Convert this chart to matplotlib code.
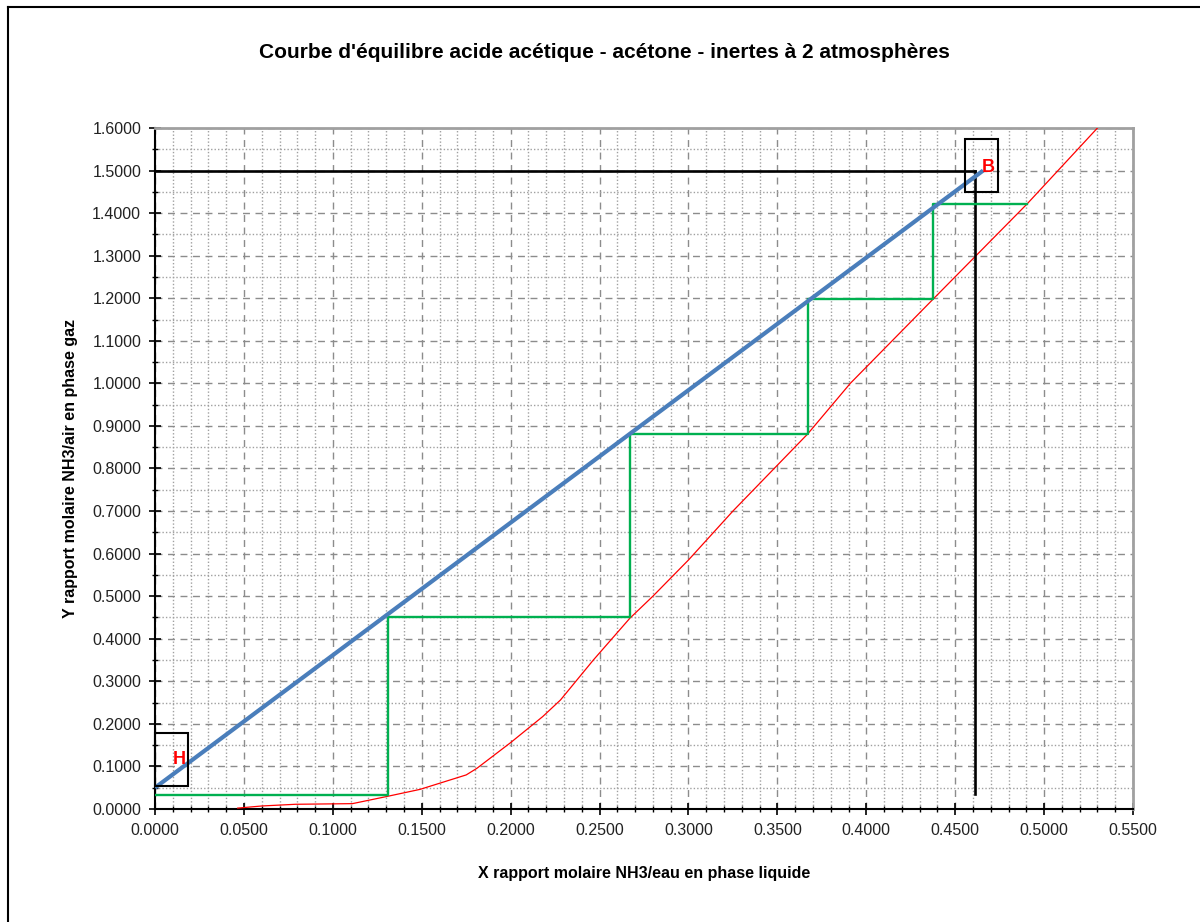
import matplotlib
matplotlib.use("Agg")
import matplotlib.pyplot as plt
from matplotlib.patches import Rectangle
from matplotlib.lines import Line2D
from matplotlib.ticker import MultipleLocator, FormatStrFormatter

plt.rcParams['font.family'] = ['Liberation Sans', 'DejaVu Sans']

# equilibrium curve (red)
eq_x = [0.0465, 0.060, 0.079, 0.111, 0.130, 0.149, 0.175, 0.181, 0.200, 0.218,
        0.228, 0.2465, 0.267, 0.280, 0.300, 0.325, 0.367, 0.391, 0.4376, 0.4904, 0.530]
eq_y = [0.002, 0.007, 0.011, 0.0125, 0.029, 0.046, 0.080, 0.0955, 0.156, 0.217,
        0.256, 0.350, 0.448, 0.500, 0.585, 0.700, 0.881, 1.000, 1.198, 1.4215, 1.600]

# operating line (blue) H -> B
op_x = [0.0, 0.4657]
op_y = [0.05, 1.50]

# stages (green staircase)
st_x = [0.0, 0.131, 0.131, 0.267, 0.267, 0.367, 0.367, 0.4376, 0.4376, 0.4904]
st_y = [0.033, 0.033, 0.451, 0.451, 0.881, 0.881, 1.198, 1.198, 1.4215, 1.4215]

# black construction lines
hline_x = [0.0, 0.461]
hline_y = [1.5, 1.5]
vline_x = [0.461, 0.461]
vline_y = [1.5, 0.035]

# label boxes: (x0, y0, w, h)
box_H = (0.0, 0.054, 0.0186, 0.125)
box_B = (0.4556, 1.450, 0.0185, 0.124)

fig = plt.figure(figsize=(12, 9.22), dpi=100)
ax = fig.add_axes([0.1292, 0.1226, 0.815, 0.7386])

ax.set_xlim(0, 0.55)
ax.set_ylim(0, 1.6)
ax.xaxis.set_major_locator(MultipleLocator(0.05))
ax.xaxis.set_minor_locator(MultipleLocator(0.01))
ax.yaxis.set_major_locator(MultipleLocator(0.1))
ax.yaxis.set_minor_locator(MultipleLocator(0.05))
ax.xaxis.set_major_formatter(FormatStrFormatter('%.4f'))
ax.yaxis.set_major_formatter(FormatStrFormatter('%.4f'))

ax.grid(which='major', color='#8c8c8c', linestyle=(0, (5, 4)), linewidth=1.0)
ax.grid(which='minor', color='#a0a0a0', linestyle=(0, (1, 1.5)), linewidth=1.0)
ax.set_axisbelow(True)

ax.tick_params(which='major', direction='inout', length=8, width=1.2,
               labelsize=11.5, colors='black', labelcolor='#222222', pad=6)
ax.tick_params(which='minor', direction='inout', length=5, width=1.0)

for s in ['left', 'bottom']:
    ax.spines[s].set_color('black')
    ax.spines[s].set_linewidth(1.5)
for s in ['top', 'right']:
    ax.spines[s].set_color('#a0a0a0')
    ax.spines[s].set_linewidth(2)

ax.plot(eq_x, eq_y, color='#ff0000', linewidth=0.9, zorder=3)
ax.plot(hline_x, hline_y, color='black', linewidth=1.9, zorder=3)
ax.plot(vline_x, vline_y, color='black', linewidth=1.9, zorder=3)
ax.plot(st_x, st_y, color='#00b050', linewidth=1.7, zorder=4)
ax.plot(op_x, op_y, color='#4a7ebb', linewidth=3.0, zorder=5, solid_capstyle='butt')

for b in (box_H, box_B):
    ax.add_patch(Rectangle((b[0], b[1]), b[2], b[3], fill=False,
                           edgecolor='black', linewidth=1.5, zorder=6, clip_on=False))

ax.text(0.0135, 0.117, 'H', color='#ff0000', fontsize=13, fontweight='bold',
        ha='center', va='center', zorder=7)
ax.text(0.4685, 1.506, 'B', color='#ff0000', fontsize=13, fontweight='bold',
        ha='center', va='center', zorder=7)

ax.set_xlabel('X rapport molaire NH3/eau en phase liquide', fontsize=11.5,
              fontweight='bold', labelpad=20)
ax.set_ylabel('Y rapport molaire NH3/air en phase gaz', fontsize=11.5,
              fontweight='bold', labelpad=10)

fig.text(0.504, 1 - 53 / 922, "Courbe d'équilibre acide acétique - acétone - inertes à 2 atmosphères",
         fontsize=15, fontweight='bold', ha='center', va='center')

# outer frame (left and top only visible)
fig.add_artist(Line2D([8 / 1200, 8 / 1200], [0, 1 - 7 / 922], color='black', linewidth=1.5))
fig.add_artist(Line2D([8 / 1200, 1], [1 - 7 / 922, 1 - 7 / 922], color='black', linewidth=1.5))

fig.savefig('out.png', dpi=100)
